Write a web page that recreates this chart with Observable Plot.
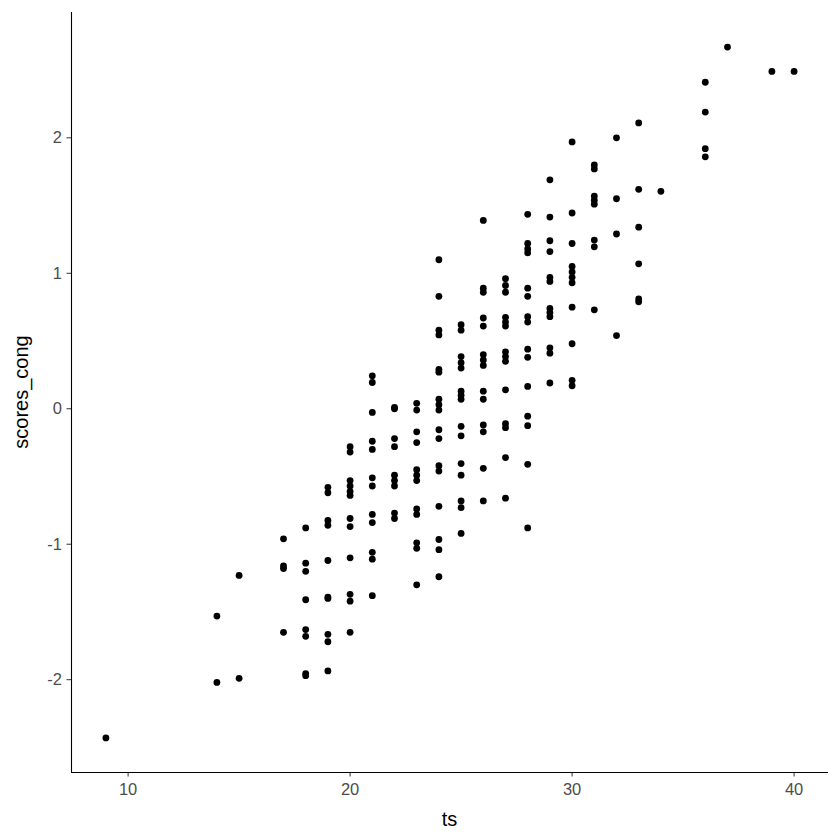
<!DOCTYPE html>
<html>
<head>
<meta charset="utf-8">
<script src="https://cdn.jsdelivr.net/npm/d3@7"></script>
<script src="https://cdn.jsdelivr.net/npm/@observablehq/plot@0.6"></script>
<style>
  html, body { margin: 0; padding: 0; background: #fff; }
  #chart { width: 840px; height: 840px; }
</style>
</head>
<body>
<div id="chart"></div>
<script>
// x values (ts) for each point, grouped by column
const ts = [
  9,
  14, 14,
  15, 15,
  17, 17, 17, 17,
  18, 18, 18, 18, 18, 18, 18, 18,
  19, 19, 19, 19, 19, 19, 19, 19, 19, 19,
  20, 20, 20, 20, 20, 20, 20, 20, 20, 20, 20, 20,
  21, 21, 21, 21, 21, 21, 21, 21, 21, 21, 21, 21,
  22, 22, 22, 22, 22, 22, 22, 22, 22,
  23, 23, 23, 23, 23, 23, 23, 23, 23, 23, 23, 23,
  24, 24, 24, 24, 24, 24, 24, 24, 24, 24, 24, 24, 24, 24, 24, 24, 24,
  25, 25, 25, 25, 25, 25, 25, 25, 25, 25, 25, 25, 25, 25, 25,
  26, 26, 26, 26, 26, 26, 26, 26, 26, 26, 26, 26, 26, 26,
  27, 27, 27, 27, 27, 27, 27, 27, 27, 27, 27, 27, 27, 27,
  28, 28, 28, 28, 28, 28, 28, 28, 28, 28, 28, 28, 28, 28, 28,
  29, 29, 29, 29, 29, 29, 29, 29, 29, 29, 29, 29,
  30, 30, 30, 30, 30, 30, 30, 30, 30, 30, 30,
  31, 31, 31, 31, 31, 31, 31, 31,
  32, 32, 32, 32,
  33, 33, 33, 33, 33, 33,
  34,
  36, 36, 36, 36,
  37,
  39,
  40
];
// y values (scores_cong), same order as ts
const scores_cong = [
  -2.43,
  -1.53, -2.02,
  -1.23, -1.99,
  -0.96, -1.16, -1.18, -1.65,
  -0.88, -1.14, -1.20, -1.41, -1.63, -1.68, -1.955, -1.97,
  -0.58, -0.62, -0.825, -0.86, -1.12, -1.39, -1.40, -1.665, -1.72, -1.935,
  -0.28, -0.32, -0.53, -0.57, -0.61, -0.64, -0.81, -0.87, -1.10, -1.37, -1.42, -1.65,
  0.243, 0.194, -0.027, -0.24, -0.30, -0.51, -0.57, -0.78, -0.84, -1.06, -1.11, -1.38,
  0.01, 0.0, -0.22, -0.28, -0.49, -0.53, -0.57, -0.77, -0.81,
  0.04, -0.01, -0.17, -0.25, -0.45, -0.49, -0.53, -0.74, -0.78, -0.99, -1.03, -1.30,
  1.10, 0.83, 0.58, 0.545, 0.29, 0.27, 0.07, 0.03, -0.01, -0.155, -0.22, -0.42, -0.46, -0.72, -0.965, -1.04, -1.24,
  0.62, 0.58, 0.385, 0.34, 0.30, 0.13, 0.10, 0.07, -0.13, -0.20, -0.405, -0.49, -0.68, -0.73, -0.92,
  1.39, 0.89, 0.86, 0.67, 0.61, 0.40, 0.36, 0.32, 0.13, 0.07, -0.12, -0.17, -0.44, -0.68,
  0.96, 0.91, 0.86, 0.675, 0.64, 0.61, 0.42, 0.385, 0.35, 0.14, -0.11, -0.14, -0.36, -0.66,
  1.435, 1.22, 1.18, 1.15, 0.89, 0.83, 0.68, 0.64, 0.44, 0.38, 0.165, -0.055, -0.125, -0.41, -0.88,
  1.69, 1.415, 1.24, 1.16, 0.97, 0.94, 0.74, 0.71, 0.68, 0.45, 0.41, 0.19,
  1.97, 1.445, 1.22, 1.05, 1.01, 0.97, 0.93, 0.75, 0.48, 0.21, 0.17,
  1.80, 1.77, 1.57, 1.54, 1.51, 1.245, 1.195, 0.73,
  2.00, 1.55, 1.29, 0.54,
  2.11, 1.62, 1.34, 1.07, 0.81, 0.79,
  1.605,
  2.41, 2.19, 1.92, 1.86,
  2.67,
  2.49,
  2.49
];
const xTicks = [10, 20, 30, 40];
const yTicks = [-2, -1, 0, 1, 2];

const data = ts.map((t, i) => ({ts: t, scores_cong: scores_cong[i]}));

// ggplot-style 5% expansion
const xExt = d3.extent(ts), yExt = d3.extent(scores_cong);
const xPad = (xExt[1] - xExt[0]) * 0.05, yPad = (yExt[1] - yExt[0]) * 0.05;
const xDom = [xExt[0] - xPad, xExt[1] + xPad];
const yDom = [yExt[0] - yPad, yExt[1] + yPad];

const fmt = d => String(d);

const chart = Plot.plot({
  width: 840,
  height: 840,
  marginLeft: 71,
  marginRight: 12,
  marginTop: 12,
  marginBottom: 68,
  style: {fontFamily: "'Liberation Sans', Arial, sans-serif", background: "#fff"},
  x: {domain: xDom},
  y: {domain: yDom},
  marks: [
    Plot.axisX({ticks: xTicks, tickFormat: fmt, tickSize: 4.5, tickPadding: 6, fontSize: 16.5, color: "#4D4D4D", stroke: "#333",
      label: null}),
    Plot.axisY({ticks: yTicks, tickFormat: fmt, tickSize: 4.5, tickPadding: 5, fontSize: 16.5, color: "#4D4D4D", stroke: "#333",
      label: null}),
    Plot.ruleX([xDom[0]], {stroke: "#000", strokeWidth: 1.1}),
    Plot.ruleY([yDom[0]], {stroke: "#000", strokeWidth: 1.1}),
    Plot.dot(data, {x: "ts", y: "scores_cong", r: 3.4, fill: "#000", stroke: null})
  ]
});

const svg = d3.select(chart);
// make sure tick labels use the intended size
svg.selectAll('g[aria-label="x-axis tick label"], g[aria-label="y-axis tick label"]')
  .attr("font-size", 16.5).style("font-size", "16.5px");
svg.selectAll('g[aria-label="x-axis tick label"] text, g[aria-label="y-axis tick label"] text')
  .style("font-size", "16.5px");

// Axis titles
svg.append("text")
  .attr("x", 71 + (840 - 71 - 12) / 2)
  .attr("y", 826)
  .attr("text-anchor", "middle")
  .style("font-size", "20px")
  .attr("fill", "#000")
  .text("ts");
svg.append("text")
  .attr("transform", `translate(28, ${12 + (840 - 12 - 68) / 2}) rotate(-90)`)
  .attr("text-anchor", "middle")
  .style("font-size", "20px")
  .attr("fill", "#000")
  .text("scores_cong");

document.getElementById("chart").appendChild(chart);
</script>
</body>
</html>
